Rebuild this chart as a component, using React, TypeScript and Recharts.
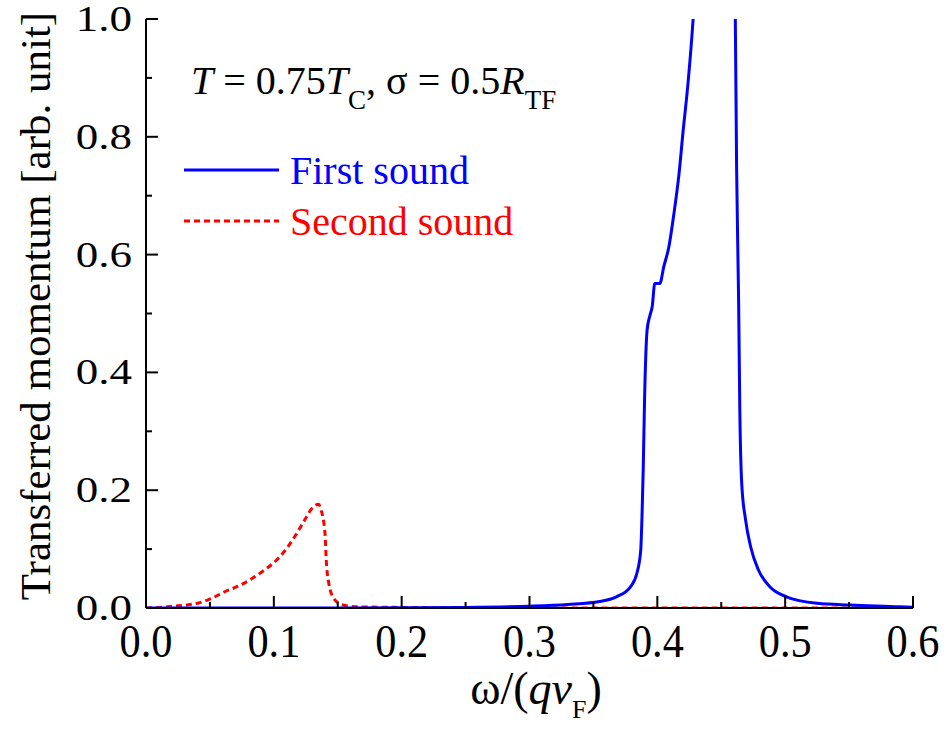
import React from 'react';
import { LineChart, Line, XAxis, YAxis } from 'recharts';

// first sound (blue, solid)
const firstX = [0, 0.1, 0.2, 0.25, 0.3, 0.33, 0.355, 0.368, 0.379, 0.384, 0.387, 0.388, 0.389, 0.39, 0.392, 0.394, 0.396, 0.398, 0.402, 0.405, 0.409, 0.413, 0.417, 0.42, 0.424, 0.428, 0.435, 0.445, 0.455, 0.461, 0.462, 0.4636, 0.4645, 0.466, 0.469, 0.473, 0.479, 0.488, 0.501, 0.525, 0.551, 0.59, 0.6];
const firstY = [0, 0, 0.0005, 0.001, 0.003, 0.006, 0.011, 0.019, 0.036, 0.059, 0.098, 0.155, 0.24, 0.353, 0.472, 0.495, 0.512, 0.551, 0.551, 0.579, 0.613, 0.67, 0.738, 0.806, 0.891, 1.0, 1.3, 1.7, 1.5, 1.0, 0.749, 0.52, 0.34, 0.212, 0.15, 0.104, 0.065, 0.036, 0.019, 0.008, 0.005, 0.002, 0.001];

// second sound (red, dashed)
const secondX = [0, 0.011, 0.021, 0.032, 0.042, 0.051, 0.062, 0.072, 0.083, 0.093, 0.101, 0.11, 0.118, 0.124, 0.131, 0.135, 0.137, 0.14, 0.141, 0.143, 0.147, 0.154, 0.167, 0.2, 0.3, 0.4, 0.5, 0.6];
const secondY = [0, 0.001, 0.003, 0.005, 0.009, 0.016, 0.028, 0.037, 0.05, 0.065, 0.079, 0.101, 0.127, 0.149, 0.172, 0.176, 0.166, 0.127, 0.081, 0.042, 0.016, 0.005, 0.002, 0.001, 0, 0, 0, 0];

const xTicks = [0, 0.05, 0.1, 0.15, 0.2, 0.25, 0.3, 0.35, 0.4, 0.45, 0.5, 0.55, 0.6];
const yTicks = [0, 0.1, 0.2, 0.3, 0.4, 0.5, 0.6, 0.7, 0.8, 0.9, 1.0];

const firstData = firstX.map((x, i) => ({ x, y: firstY[i] }));
const secondData = secondX.map((x, i) => ({ x, y: secondY[i] }));

const FONT = '"Liberation Serif", "Times New Roman", serif';
const font = { fontFamily: FONT };
// labelled ticks: every 0.1 on x, every 0.2 on y
const xMajor = (v: number) => Math.round(v * 100) % 10 === 0;
const yMajor = (v: number) => Math.round(v * 10) % 2 === 0;

const BottomTick = (props: any) => {
  const { x, y, payload } = props;
  const major = xMajor(payload.value);
  return (
    <g>
      <line x1={x} x2={x} y1={y} y2={y - (major ? 12 : 6)} stroke="#000" strokeWidth={2} />
      {major && (
        <text transform={`translate(${x} ${y + 49}) scale(0.92 1)`} textAnchor="middle" fontSize={46} style={font} fill="#000">
          {payload.value.toFixed(1)}
        </text>
      )}
    </g>
  );
};

const TopTick = (props: any) => {
  const { x, y, payload } = props;
  const major = xMajor(payload.value);
  return <line x1={x} x2={x} y1={y} y2={y + (major ? 12 : 6)} stroke="#000" strokeWidth={2} />;
};

const LeftTick = (props: any) => {
  const { x, y, payload } = props;
  const major = yMajor(payload.value);
  return (
    <g>
      <line x1={x} x2={x + (major ? 12 : 6)} y1={y} y2={y} stroke="#000" strokeWidth={2} />
      {major && (
        <text transform={`translate(${x - 14} ${y + 12}) scale(1.25 1)`} textAnchor="end" fontSize={36} style={font} fill="#000">
          {payload.value.toFixed(1)}
        </text>
      )}
    </g>
  );
};

const RightTick = (props: any) => {
  const { x, y, payload } = props;
  const major = yMajor(payload.value);
  return <line x1={x} x2={x - (major ? 12 : 6)} y1={y} y2={y} stroke="#000" strokeWidth={2} />;
};

const axisLine = { stroke: '#000', strokeWidth: 2 };

export default function App() {
  return (
    <div style={{ position: 'absolute', left: 0, top: 0, width: 947, height: 736, background: '#fff' }}>
      <LineChart width={947} height={736} margin={{ top: 19, right: 34, left: 0, bottom: 0 }}>
        <XAxis xAxisId="b" dataKey="x" type="number" domain={[0, 0.6]} ticks={xTicks} interval={0}
          height={128} tickSize={0} tickMargin={0} tickLine={false} axisLine={axisLine} tick={<BottomTick />} allowDataOverflow />
        <XAxis xAxisId="t" orientation="top" dataKey="x" type="number" domain={[0, 0.6]} ticks={xTicks} interval={0}
          height={0} tickSize={0} tickMargin={0} tickLine={false} axisLine={axisLine} tick={<TopTick />} allowDataOverflow />
        <YAxis yAxisId="l" type="number" domain={[0, 1]} ticks={yTicks} interval={0}
          width={146} tickSize={0} tickMargin={0} tickLine={false} axisLine={axisLine} tick={<LeftTick />} allowDataOverflow />
        <YAxis yAxisId="r" orientation="right" type="number" domain={[0, 1]} ticks={yTicks} interval={0}
          width={0} tickSize={0} tickMargin={0} tickLine={false} axisLine={axisLine} tick={<RightTick />} allowDataOverflow />
        <Line xAxisId="b" yAxisId="l" data={secondData} dataKey="y" type="monotone" stroke="#ff0000" strokeWidth={3}
          strokeDasharray="6 4" dot={false} activeDot={false} isAnimationActive={false} />
        <Line xAxisId="b" yAxisId="l" data={firstData} dataKey="y" type="monotone" stroke="#0000ff" strokeWidth={3}
          dot={false} activeDot={false} isAnimationActive={false} />
      </LineChart>
      <svg width={947} height={736} style={{ position: 'absolute', left: 0, top: 0, pointerEvents: 'none' }}>
        <text x={191} y={94} fontSize={40} fill="#000" style={font}>
          <tspan fontStyle="italic">T</tspan>
          <tspan> = 0.75</tspan>
          <tspan fontStyle="italic">T</tspan>
          <tspan fontSize={27} dy={15}>C</tspan>
          <tspan dy={-15}>, σ = 0.5</tspan>
          <tspan fontStyle="italic">R</tspan>
          <tspan fontSize={27} dy={15}>TF</tspan>
        </text>
        <line x1={184} x2={279} y1={170} y2={170} stroke="#0000ff" strokeWidth={3} />
        <text x={290} y={184} fontSize={40} fill="#0000ff" style={font}>First sound</text>
        <line x1={184} x2={279} y1={221} y2={221} stroke="#ff0000" strokeWidth={3} strokeDasharray="6 4" />
        <text x={290} y={235} fontSize={40} fill="#ff0000" style={font}>Second sound</text>
        <text transform="translate(50 306) rotate(-90)" textAnchor="middle" fontSize={43} fill="#000" style={font}>
          Transferred momentum [arb. unit]
        </text>
        <text x={536} y={704} textAnchor="middle" fontSize={46} fill="#000" style={font}>
          <tspan>ω/(</tspan>
          <tspan fontStyle="italic">qv</tspan>
          <tspan fontSize={26} dy={14}>F</tspan>
          <tspan dy={-14}>)</tspan>
        </text>
      </svg>
    </div>
  );
}
